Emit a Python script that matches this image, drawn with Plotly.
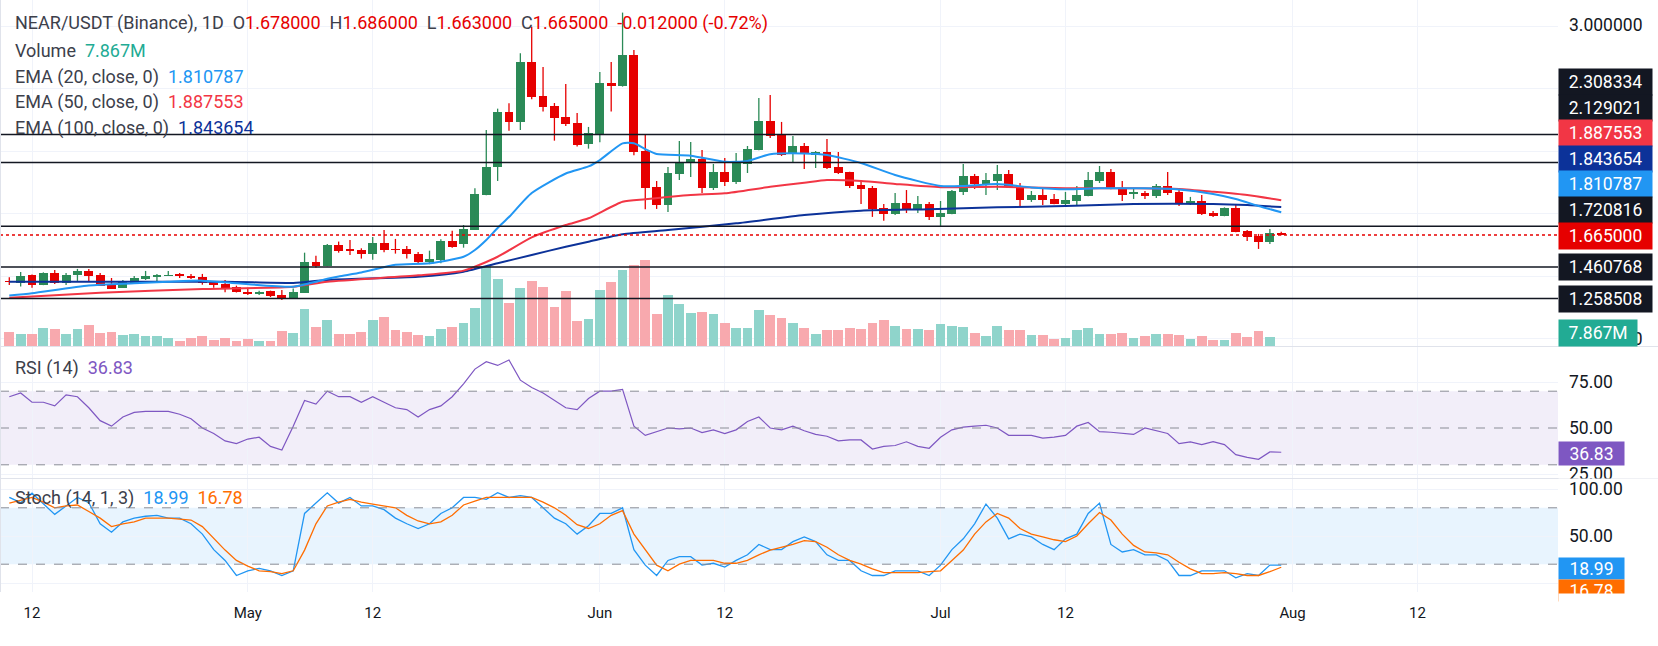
import pandas as pd
import plotly.graph_objects as go

START = "2025-04-10"

opens = [1.368, 1.360, 1.409, 1.345, 1.422, 1.360, 1.409, 1.435, 1.409, 1.345,
         1.328, 1.360, 1.384, 1.402, 1.404, 1.409, 1.403, 1.396, 1.367, 1.350,
         1.335, 1.298, 1.290, 1.307, 1.281, 1.260, 1.296, 1.493, 1.467, 1.601,
         1.572, 1.569, 1.546, 1.616, 1.575, 1.574, 1.542, 1.495, 1.505, 1.627,
         1.606, 1.700, 1.924, 2.103, 2.453, 2.391, 2.773, 2.555, 2.491, 2.421,
         2.382, 2.248, 2.310, 2.636, 2.621, 2.818, 2.203, 1.973, 1.860, 2.056,
         2.126, 2.152, 1.966, 2.069, 2.005, 2.120, 2.210, 2.395, 2.306, 2.184,
         2.235, 2.178, 2.197, 2.101, 2.069, 1.985, 1.966, 1.838, 1.800, 1.870,
         1.832, 1.864, 1.781, 1.800, 1.941, 2.043, 1.992, 2.011, 2.056, 1.979,
         1.889, 1.921, 1.896, 1.864, 1.883, 1.915, 2.011, 2.069, 1.966, 1.932,
         1.934, 1.915, 1.979, 1.941, 1.864, 1.883, 1.806, 1.787, 1.838, 1.691,
         1.659, 1.621, 1.678]
highs = [1.394, 1.428, 1.412, 1.426, 1.441, 1.422, 1.448, 1.448, 1.422, 1.390,
         1.377, 1.403, 1.435, 1.416, 1.435, 1.422, 1.416, 1.416, 1.371, 1.377,
         1.341, 1.328, 1.309, 1.309, 1.313, 1.322, 1.552, 1.533, 1.608, 1.623,
         1.633, 1.580, 1.653, 1.697, 1.640, 1.595, 1.557, 1.565, 1.638, 1.693,
         1.729, 1.964, 2.338, 2.474, 2.508, 2.828, 2.999, 2.741, 2.510, 2.632,
         2.446, 2.357, 2.709, 2.773, 3.089, 2.850, 2.310, 2.011, 2.101, 2.267,
         2.261, 2.210, 2.120, 2.158, 2.190, 2.235, 2.542, 2.562, 2.389, 2.299,
         2.254, 2.203, 2.280, 2.197, 2.070, 2.005, 1.979, 1.864, 1.934, 1.953,
         1.915, 1.877, 1.883, 1.953, 2.120, 2.056, 2.062, 2.114, 2.081, 1.998,
         1.947, 1.966, 1.928, 1.941, 1.979, 2.069, 2.107, 2.088, 2.011, 1.960,
         1.947, 1.992, 2.069, 1.953, 1.909, 1.921, 1.819, 1.842, 1.864, 1.697,
         1.672, 1.704, 1.686]
lows = [1.345, 1.335, 1.328, 1.344, 1.352, 1.345, 1.371, 1.371, 1.340, 1.321,
        1.327, 1.352, 1.377, 1.371, 1.403, 1.390, 1.384, 1.347, 1.328, 1.298,
        1.297, 1.281, 1.281, 1.268, 1.249, 1.258, 1.295, 1.456, 1.465, 1.552,
        1.537, 1.514, 1.507, 1.554, 1.546, 1.514, 1.482, 1.478, 1.484, 1.584,
        1.584, 1.697, 1.920, 2.011, 2.333, 2.338, 2.534, 2.455, 2.269, 2.363,
        2.231, 2.218, 2.259, 2.455, 2.615, 2.175, 1.830, 1.832, 1.813, 2.017,
        2.037, 1.934, 1.953, 1.979, 1.992, 2.062, 2.208, 2.286, 2.171, 2.133,
        2.088, 2.094, 2.088, 2.056, 1.966, 1.864, 1.781, 1.757, 1.793, 1.806,
        1.806, 1.761, 1.723, 1.798, 1.921, 1.960, 1.921, 1.953, 1.966, 1.845,
        1.877, 1.857, 1.862, 1.857, 1.857, 1.913, 1.998, 1.958, 1.883, 1.896,
        1.896, 1.902, 1.921, 1.851, 1.857, 1.793, 1.781, 1.785, 1.683, 1.627,
        1.576, 1.608, 1.663]
closes = [1.365, 1.403, 1.345, 1.422, 1.360, 1.409, 1.435, 1.403, 1.341, 1.322,
          1.367, 1.390, 1.403, 1.407, 1.408, 1.406, 1.390, 1.360, 1.347, 1.328,
          1.298, 1.288, 1.295, 1.277, 1.260, 1.300, 1.493, 1.467, 1.601, 1.565,
          1.566, 1.546, 1.616, 1.569, 1.571, 1.544, 1.495, 1.512, 1.627, 1.591,
          1.704, 1.928, 2.103, 2.453, 2.391, 2.773, 2.551, 2.487, 2.417, 2.376,
          2.242, 2.316, 2.638, 2.621, 2.818, 2.199, 1.968, 1.860, 2.062, 2.133,
          2.152, 1.966, 2.069, 2.005, 2.133, 2.216, 2.395, 2.299, 2.178, 2.235,
          2.184, 2.197, 2.094, 2.062, 1.979, 1.960, 1.832, 1.800, 1.870, 1.832,
          1.864, 1.781, 1.806, 1.947, 2.043, 1.992, 2.017, 2.056, 1.973, 1.889,
          1.921, 1.889, 1.864, 1.889, 1.921, 2.017, 2.069, 1.960, 1.921, 1.936,
          1.915, 1.979, 1.934, 1.864, 1.883, 1.800, 1.787, 1.836, 1.685, 1.653,
          1.621, 1.677, 1.665]
# volume in millions; the last (current) day's bar is not drawn in the reference
volumes_m = [10.0, 8.6, 8.6, 12.9, 12.2, 8.6, 12.2, 15.0, 9.3, 10.0,
             7.9, 8.6, 7.2, 7.2, 5.7, 3.6, 5.7, 7.2, 4.3, 5.5,
             3.6, 5.0, 3.6, 3.6, 10.7, 9.3, 26.5, 13.6, 18.6, 8.6,
             8.6, 10.0, 18.6, 20.7, 11.4, 10.0, 7.9, 7.2, 12.2, 13.6,
             16.4, 27.2, 57.2, 47.9, 30.7, 41.5, 46.5, 42.2, 27.9, 39.3,
             17.9, 19.3, 40.0, 45.8, 54.3, 57.9, 61.5, 22.9, 36.5, 30.0,
             23.6, 24.3, 22.9, 16.4, 12.9, 12.9, 25.7, 22.2, 20.0, 16.4,
             12.9, 8.6, 11.4, 11.4, 12.9, 12.2, 16.4, 18.6, 14.3, 12.2,
             12.2, 11.4, 15.7, 14.3, 13.6, 9.3, 7.2, 14.3, 11.4, 11.4,
             7.9, 7.9, 5.0, 5.7, 11.4, 12.9, 8.6, 8.6, 9.3, 5.7,
             7.2, 8.6, 8.6, 7.9, 5.0, 7.2, 4.3, 4.3, 9.3, 6.4,
             10.7, 6.4, None]

ema20_day = [0, 2, 7, 11, 14, 17, 20, 25, 27, 28, 29, 31, 34, 37, 40, 41, 42, 43, 44, 46,
             49, 51, 52, 54, 55, 56, 57, 60, 63, 65, 67, 70, 72, 75, 78, 82, 84, 87, 90,
             93, 96, 100, 103, 106, 108, 110, 112]
ema20 = [1.277, 1.292, 1.342, 1.356, 1.366, 1.373, 1.356, 1.334, 1.366, 1.385, 1.400,
         1.425, 1.474, 1.484, 1.526, 1.569, 1.633, 1.710, 1.780, 1.934, 2.059, 2.104,
         2.145, 2.252, 2.252, 2.215, 2.184, 2.173, 2.134, 2.139, 2.182, 2.187, 2.177,
         2.126, 2.049, 1.979, 1.979, 1.991, 1.970, 1.958, 1.964, 1.964, 1.956, 1.927,
         1.895, 1.851, 1.810787]
ema50_day = [0, 8, 17, 25, 28, 36, 40, 43, 46, 49, 51, 54, 56, 60, 63, 67, 70, 72, 75,
             78, 82, 87, 93, 99, 103, 106, 109, 112]
ema50 = [1.264, 1.296, 1.319, 1.334, 1.366, 1.407, 1.437, 1.526, 1.650, 1.729, 1.772,
         1.878, 1.894, 1.921, 1.932, 1.974, 2.000, 2.017, 2.011, 1.992, 1.971, 1.974,
         1.964, 1.964, 1.960, 1.942, 1.921, 1.887553]
ema100_day = [0, 19, 25, 28, 36, 40, 43, 46, 49, 51, 54, 58, 64, 70, 75, 81, 87, 93, 99,
              106, 109, 112]
ema100 = [1.366, 1.366, 1.358, 1.377, 1.398, 1.430, 1.484, 1.537, 1.590, 1.622, 1.670,
          1.697, 1.740, 1.793, 1.821, 1.830, 1.842, 1.851, 1.864, 1.864, 1.857, 1.843654]

rsi = [67, 69, 64, 64, 62, 68, 67, 61, 54, 51,
       56, 58.5, 59, 59, 59, 57.5, 55, 50, 47, 43,
       41.5, 44, 45, 40, 38, 51, 65, 63, 70, 67,
       67, 64, 67, 64, 61, 60, 56, 60, 62, 67,
       74, 82, 86, 84, 87, 76, 72, 69, 65, 61,
       60, 66, 70, 70, 71, 51, 46, 48, 50, 49.5,
       50, 47.5, 49, 47, 49, 53.5, 56, 50, 49, 51,
       48.5, 46.5, 45.5, 43, 43.5, 43.5, 38.6, 40, 40.5, 42.5,
       40, 39, 45, 49, 50.5, 51, 51.5, 50, 46, 46,
       46, 44.5, 45, 46, 51, 53, 48, 47.7, 47.3, 46.5,
       50, 48.5, 47, 41.5, 42.5, 41, 42.6, 41, 35.5, 34,
       33, 37, 36.83]
stoch_k = [91, 85.5, 95.5, 84, 73, 82, 91, 85.5, 63, 54,
           65, 69, 71, 72, 69, 69, 63, 52, 35.5, 24,
           8, 13, 15.5, 13, 8, 13, 74, 85, 96, 85,
           91, 82, 82, 78, 69, 63, 58, 63, 74, 80,
           91, 91, 89, 96, 91, 93, 91, 80, 69, 63,
           52, 61, 74, 74, 80, 35.5, 19, 8, 24, 28,
           28, 19, 21, 17, 24, 30, 41, 35.5, 35.5, 44,
           49, 44, 30, 24, 24, 13, 8, 8, 13, 13,
           13, 8, 19, 35.5, 47, 63, 84, 69, 47, 52,
           49, 41, 35.5, 47, 52, 74, 85, 41, 33, 35.5,
           30, 30, 24, 8, 8, 13, 13, 13, 5.5, 10,
           8, 19, 18.99]
stoch_d = [85, 88, 91, 86, 80, 82, 83, 76, 69, 60,
           63, 65, 69, 69, 69, 68, 67, 60, 47, 35,
           24, 18, 13, 12, 10, 13, 35, 63, 82, 86,
           89, 86, 84, 82, 80, 72, 66, 63, 65, 72,
           83, 87, 91, 91, 91, 91, 91, 86, 80, 72,
           62, 58, 63, 72, 77, 52, 35, 19, 13, 20,
           24, 24, 24, 21, 21, 24, 30, 35, 38, 41,
           45, 44, 38, 30, 24, 20, 15, 11, 11, 11,
           11, 12, 13, 24, 35, 52, 65, 74, 69, 58,
           52, 49, 46, 44, 50, 63, 75, 67, 52, 40,
           33, 32, 30, 22, 15, 10, 10, 11, 10, 8,
           8, 12, 16.78]

levels = [2.308334, 2.129021, 1.720816, 1.460768, 1.258508]
last_price = 1.665
tick_dates = ["2025-04-12", "2025-05-01", "2025-05-12", "2025-06-01", "2025-06-12",
              "2025-07-01", "2025-07-12", "2025-08-01", "2025-08-12"]
tick_text = ["12", "May", "12", "Jun", "12", "Jul", "12", "Aug", "12"]

# ---------------------------------------------------------------- styling
FONT = "Roboto"
GREEN = "#2B8A57"
RED = "#E60000"
GREEN_V = "#8FD4CB"
RED_V = "#F8A9AE"
C_EMA20 = "#2196F3"
C_EMA50 = "#F23645"
C_EMA100 = "#0C3299"
C_RSI = "#7E57C2"
C_K = "#2196F3"
C_D = "#FF6D00"
TXT = "#3C404B"
GRID = "#F0F3FA"
DARK = "#131722"
LEG = 18
LAB = 17.5

W, H = 1658, 646
PW, PH = 1558, 592          # plot area (margins r=100, b=54)
DAY = 86400000


def py(p):
    return (PH - p) / PH


def pxx(p):
    return p / PW


d0 = pd.Timestamp(START)
dates = pd.date_range(START, periods=len(closes), freq="D")
ema20_x = [d0 + pd.Timedelta(days=d) for d in ema20_day]
ema50_x = [d0 + pd.Timedelta(days=d) for d in ema50_day]
ema100_x = [d0 + pd.Timedelta(days=d) for d in ema100_day]

up = [c >= o for o, c in zip(opens, closes)]

fig = go.Figure()

# volume (base axis y)
fig.add_trace(go.Bar(x=dates, y=volumes_m, width=0.86 * DAY,
                     marker=dict(color=[GREEN_V if u else RED_V for u in up], line=dict(width=0)),
                     xaxis="x", yaxis="y", hoverinfo="skip"))

# candle wicks
for flag, col in ((True, GREEN), (False, RED)):
    wx, wy = [], []
    for d, h, l, u in zip(dates, highs, lows, up):
        if u == flag:
            wx += [d, d, None]
            wy += [l, h, None]
    fig.add_trace(go.Scatter(x=wx, y=wy, mode="lines", line=dict(color=col, width=1.3),
                             xaxis="x", yaxis="y2", hoverinfo="skip"))

# candle bodies
for flag, col in ((True, GREEN), (False, RED)):
    bx, bb, bh = [], [], []
    for d, o, c, u in zip(dates, opens, closes, up):
        if u == flag:
            bx.append(d)
            bb.append(min(o, c))
            bh.append(max(abs(c - o), 0.004))
    fig.add_trace(go.Bar(x=bx, y=bh, base=bb, width=0.78 * DAY,
                         marker=dict(color=col, line=dict(width=0)),
                         xaxis="x", yaxis="y2", hoverinfo="skip"))

# EMAs
for xs, ys, col in ((ema100_x, ema100, C_EMA100), (ema50_x, ema50, C_EMA50), (ema20_x, ema20, C_EMA20)):
    fig.add_trace(go.Scatter(x=xs, y=ys, mode="lines", line=dict(color=col, width=2, shape="spline", smoothing=0.6),
                             xaxis="x", yaxis="y2", hoverinfo="skip"))

# RSI
fig.add_trace(go.Scatter(x=dates, y=rsi, mode="lines", line=dict(color=C_RSI, width=1.2),
                         xaxis="x", yaxis="y3", hoverinfo="skip"))
# Stoch
fig.add_trace(go.Scatter(x=dates, y=stoch_k, mode="lines", line=dict(color=C_K, width=1.3),
                         xaxis="x", yaxis="y4", hoverinfo="skip"))
fig.add_trace(go.Scatter(x=dates, y=stoch_d, mode="lines", line=dict(color=C_D, width=1.3),
                         xaxis="x", yaxis="y4", hoverinfo="skip"))

# -------------------------------------------------------------- axes
x0 = d0 - pd.Timedelta(hours=0.819 * 24)
x1 = d0 + pd.Timedelta(hours=136.37 * 24)
main_dom = [py(346), 1]
RSI_TOP, RSI_BOT = 347, 478
ST_TOP = 479
fig.update_layout(
    width=W, height=H, autosize=False,
    margin=dict(l=0, r=W - PW, t=0, b=H - PH),
    paper_bgcolor="white", plot_bgcolor="white",
    showlegend=False, barmode="overlay", bargap=0,
    xaxis=dict(type="date", range=[x0, x1], domain=[0, 1], anchor="y4",
               tickvals=tick_dates, ticktext=tick_text, showgrid=True, gridcolor=GRID,
               zeroline=False, showline=False, ticks="", ticklabelstandoff=10,
               tickfont=dict(family=FONT, size=15, color=DARK)),
    yaxis=dict(domain=main_dom, range=[0, 247.4], showgrid=False, showticklabels=False,
               zeroline=False, anchor="x"),
    yaxis2=dict(overlaying="y", range=[0.95449, 3.16958], tickvals=[1.0, 1.4, 1.8, 2.2, 2.6, 3.0],
                showgrid=True, gridcolor=GRID, showticklabels=False, zeroline=False, anchor="x", side="right"),
    yaxis3=dict(domain=[py(RSI_BOT), py(RSI_TOP)],
                range=[50 - (RSI_BOT - 428) / 1.84, 50 + (428 - RSI_TOP) / 1.84], tickvals=[25, 75],
                showgrid=True, gridcolor=GRID, showticklabels=False, zeroline=False, anchor="x"),
    yaxis4=dict(domain=[0, py(ST_TOP)], range=[50 - (PH - 536) / 0.94, 100 + (489 - ST_TOP) / 0.94],
                tickvals=[0, 50, 100],
                showgrid=True, gridcolor=GRID, showticklabels=False, zeroline=False, anchor="x"),
)

shapes = []
# RSI band + dashed lines
shapes.append(dict(type="rect", xref="x domain", yref="y3", x0=0, x1=1, y0=30, y1=70,
                   fillcolor="rgba(126,87,194,0.10)", line=dict(width=0), layer="below"))
for lv in (70, 50, 30):
    shapes.append(dict(type="line", xref="x domain", yref="y3", x0=0, x1=1, y0=lv, y1=lv,
                       line=dict(color="#8A8D96", width=1, dash="dash")))
# Stoch band
shapes.append(dict(type="rect", xref="x domain", yref="y4", x0=0, x1=1, y0=20, y1=80,
                   fillcolor="rgba(33,150,243,0.10)", line=dict(width=0), layer="below"))
for lv in (80, 20):
    shapes.append(dict(type="line", xref="x domain", yref="y4", x0=0, x1=1, y0=lv, y1=lv,
                       line=dict(color="#8A8D96", width=1, dash="dash")))
# support / resistance levels
for lv in levels:
    shapes.append(dict(type="line", xref="paper", yref="y2", x0=0, x1=1, y0=lv, y1=lv,
                       line=dict(color=DARK, width=1.5), layer="above"))
shapes.append(dict(type="line", xref="paper", yref="y2", x0=0, x1=1, y0=last_price, y1=last_price,
                   line=dict(color=RED, width=1.5, dash="dot"), layer="above"))
# pane separators
for yp in (346.5, RSI_BOT + 0.5):
    shapes.append(dict(type="line", xref="paper", yref="paper", x0=0, x1=W / PW, y0=py(yp), y1=py(yp),
                       line=dict(color="#E0E3EB", width=1)))
shapes.append(dict(type="line", xref="paper", yref="paper", x0=pxx(0.5), x1=pxx(0.5), y0=py(0), y1=py(PH),
                   line=dict(color="#E0E3EB", width=1)))
fig.update_layout(shapes=shapes)

ann = []


def text_ann(txt, xp, yp, size=LEG, color=TXT, anchor="left"):
    ann.append(dict(xref="paper", yref="paper", x=pxx(xp), y=py(yp), xanchor=anchor, yanchor="middle",
                    text=txt, showarrow=False, font=dict(family=FONT, size=size, color=color)))


def box_ann(txt, yp, bg, w=93, h=25.5, size=LAB, color="white"):
    ann.append(dict(xref="paper", yref="paper", x=pxx(PW), y=py(yp), xanchor="left", yanchor="middle",
                    text=txt, showarrow=False, bgcolor=bg, width=w, height=h, borderpad=0, align="center",
                    font=dict(family=FONT, size=size, color=color)))


def cover(ytop, h):
    ann.append(dict(xref="paper", yref="paper", x=pxx(PW), y=py(ytop), xanchor="left", yanchor="top",
                    text="\u00a0", showarrow=False, bgcolor="white", width=100, height=h, borderpad=0))


def span(t, c):
    return f'<span style="color:{c}">{t}</span>'


sp = "\u00a0\u00a0"
title = ("NEAR/USDT (Binance), 1D" + sp + "O" + span("1.678000", RED) + sp + "H" + span("1.686000", RED)
         + sp + "L" + span("1.663000", RED) + sp + "C" + span("1.665000", RED) + sp
         + span("-0.012000 (-0.72%)", RED))
text_ann(title, 13, 23)
text_ann("Volume" + sp + span("7.867M", "#22AB94"), 13, 50.5)
text_ann("EMA (20, close, 0)" + sp + span("1.810787", C_EMA20), 13, 76.5)
text_ann("EMA (50, close, 0)" + sp + span("1.887553", C_EMA50), 13, 102.3)
text_ann("EMA (100, close, 0)" + sp + span("1.843654", C_EMA100), 13, 127.7)
text_ann("RSI (14)" + sp + span("36.83", C_RSI), 13, 368)
text_ann("Stoch (14, 1, 3)" + sp + span("18.99", C_K) + sp + span("16.78", C_D), 13, 498)

# right price axis text
text_ann("3.000000", 1567, 25, size=LAB, color=DARK)
text_ann("1.000000", 1567, 339, size=LAB, color=DARK)
text_ann("75.00", 1567, 382, size=LAB, color=DARK)
text_ann("50.00", 1567, 428, size=LAB, color=DARK)
text_ann("25.00", 1567, 474, size=LAB, color=DARK)

box_ann("2.308334", 82, DARK)
box_ann("2.129021", 107.5, DARK)
box_ann("1.887553", 133, C_EMA50)
box_ann("1.843654", 158.7, C_EMA100)
box_ann("1.810787", 184.3, C_EMA20)
box_ann("1.720816", 210, DARK)
box_ann("1.665000", 235.7, RED)
box_ann("1.460768", 267.3, DARK)
box_ann("1.258508", 298.5, DARK)
box_ann("7.867M", 333, "#22AB94", w=78)
box_ann("36.83", 453.5, C_RSI, w=65, h=23)
# stoch axis (its pane hides the bottom of the RSI axis text)
cover(RSI_BOT, 8)
text_ann("100.00", 1567, 489, size=LAB, color=DARK)
text_ann("50.00", 1567, 536, size=LAB, color=DARK)
box_ann("18.99", 568, C_K, w=65, h=21)
box_ann("16.78", 590, C_D, w=65, h=21)
cover(PH + 0.5, 16)
fig.update_layout(annotations=ann)

fig.write_html("out.html")
